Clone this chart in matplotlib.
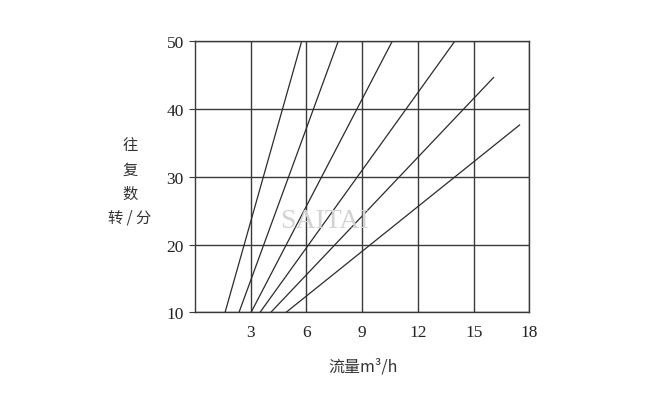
import matplotlib
matplotlib.use("Agg")
import matplotlib.pyplot as plt

plt.rcParams['font.family'] = ['Liberation Serif', 'Noto Sans CJK SC', 'DejaVu Sans']

# flow (m3/h) at start and end of each line, with strokes/min at each end
x_start = [1.62, 2.37, 3.02, 3.5, 4.08, 4.9]
x_end = [5.75, 7.72, 10.63, 14.0, 16.07, 17.47]
y_start = [10, 10, 10, 10, 10, 10]
y_end = [50, 50, 50, 50, 44.6, 37.6]

x_ticks = [3, 6, 9, 12, 15, 18]
y_ticks = [10, 20, 30, 40, 50]

fig = plt.figure(figsize=(6.52, 4.14), dpi=100)
ax = fig.add_axes([0.299, 0.243, 0.513, 0.656])

for xs, xe, ys, ye in zip(x_start, x_end, y_start, y_end):
    ax.plot([xs, xe], [ys, ye], color='#2b2b2b', linewidth=0.9)

ax.set_xlim(0, 18)
ax.set_ylim(10, 50)
ax.set_xticks(x_ticks)
ax.set_yticks(y_ticks)
ax.grid(True, color='#3a3a3a', linewidth=1.0)
ax.set_axisbelow(True)
for s in ax.spines.values():
    s.set_color('#3a3a3a')
    s.set_linewidth(1.0)
ax.tick_params(axis='x', length=0, pad=8, labelsize=12.5, colors='#222222')
ax.tick_params(axis='y', length=4, pad=4, labelsize=12.5, colors='#222222', color='#3a3a3a')

ax.text(0.255, 0.315, 'SAITAI', transform=ax.transAxes, fontsize=20,
        color='#d2d2d2', family='Liberation Serif')

fig.text(130 / 652, 1 - 182 / 414, '往\n复\n数\n转 / 分', ha='center', va='center',
         fontsize=11, color='#333333', linespacing=1.55,
         family=['Noto Sans CJK SC', 'DejaVu Sans'])
fig.text(363 / 652, 1 - 367 / 414, '流量m³/h', ha='center', va='center',
         fontsize=11.5, color='#333333',
         family=['Noto Sans CJK SC', 'DejaVu Sans'])

fig.savefig('out.png', dpi=100)
